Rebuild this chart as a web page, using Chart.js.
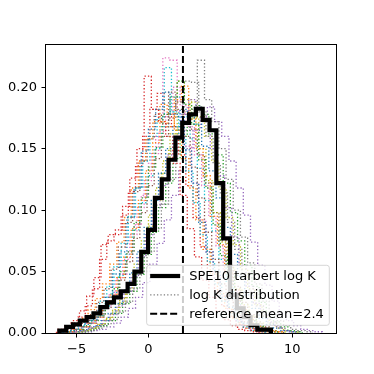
<!DOCTYPE html>
<html>
<head>
<meta charset="utf-8">
<script src="https://cdn.jsdelivr.net/npm/chart.js@4.4.1/dist/chart.umd.min.js"></script>
<style>
  html, body { margin: 0; padding: 0; background: #fff; }
  #wrap { width: 374px; height: 374px; }
</style>
</head>
<body>
<div id="wrap"><canvas id="histChart" width="374" height="374"></canvas></div>
<script>
// Axis ranges and ticks
const xMin = -7.13, xMax = 13.05;
const yMin = 0, yMax = 0.2344;
const xTicks = [-5, 0, 5, 10];
const yTicks = [0, 0.05, 0.10, 0.15, 0.20];
const refMean = 2.4;
const legendLabels = ['SPE10 tarbert log K', 'log K distribution', 'reference mean=' + refMean];

// SPE10 tarbert log K histogram (density per bin)
const spe10Start = -6.2;
const spe10Width = 0.475;
const spe10Density = [0.002, 0.005, 0.007, 0.010, 0.013, 0.016, 0.021, 0.025, 0.029, 0.034,
    0.040, 0.050, 0.066, 0.084, 0.110, 0.125, 0.141, 0.159, 0.171, 0.178,
    0.1825, 0.1735, 0.165, 0.122, 0.077, 0.031, 0.020, 0.013, 0.0063, 0.0028, 0.0028];

// sampled log K distributions (dotted), each: first bin edge + densities
const sampleWidth = 0.5;
const sampleStarts = [-6.0, -5.7, -5.5, -6.3, -5.2, -6.1, -5.5, -4.6, -5.0, -5.9,
    -5.3, -6.2, -4.8, -6.4, -4.4, -5.6, -5.8, -5.0, -5.1, -5.6];
const sample01 = [0.001,0.002,0.004,0.007,0.011,0.020,0.029,0.048,0.066,0.094,0.118,0.148,0.166,0.182,0.196,0.178,0.176,0.149,0.122,0.090,0.066,0.051,0.029,0.021,0.011,0.008,0.004,0.002,0.001];
const sample02 = [0.001,0.003,0.005,0.008,0.013,0.022,0.031,0.045,0.062,0.085,0.108,0.132,0.155,0.172,0.168,0.190,0.201,0.174,0.150,0.128,0.095,0.072,0.049,0.035,0.020,0.013,0.007,0.004,0.002,0.001];
const sample03 = [0.002,0.003,0.006,0.010,0.014,0.024,0.036,0.050,0.066,0.090,0.110,0.135,0.151,0.178,0.192,0.205,0.186,0.170,0.141,0.118,0.088,0.063,0.046,0.030,0.018,0.011,0.006,0.003,0.001];
const sample04 = [0.003,0.006,0.010,0.018,0.030,0.045,0.072,0.080,0.084,0.103,0.126,0.150,0.209,0.182,0.172,0.160,0.138,0.112,0.085,0.062,0.043,0.029,0.018,0.011,0.006,0.003,0.002,0.001];
const sample05 = [0.001,0.002,0.004,0.006,0.010,0.015,0.022,0.033,0.046,0.062,0.080,0.102,0.120,0.145,0.160,0.178,0.190,0.184,0.172,0.150,0.128,0.102,0.078,0.055,0.038,0.024,0.015,0.009,0.005,0.002,0.001];
const sample06 = [0.001,0.003,0.006,0.009,0.015,0.025,0.036,0.052,0.070,0.090,0.115,0.140,0.158,0.178,0.170,0.196,0.182,0.160,0.135,0.110,0.082,0.060,0.040,0.027,0.016,0.009,0.005,0.002,0.001];
const sample07 = [0.001,0.003,0.005,0.009,0.014,0.022,0.033,0.048,0.066,0.088,0.112,0.138,0.160,0.224,0.222,0.180,0.152,0.122,0.092,0.066,0.045,0.030,0.018,0.010,0.006,0.003,0.001];
const sample08 = [0.001,0.002,0.004,0.007,0.011,0.017,0.025,0.036,0.050,0.066,0.085,0.105,0.125,0.148,0.165,0.182,0.222,0.190,0.172,0.150,0.125,0.100,0.078,0.057,0.040,0.026,0.016,0.010,0.006,0.003,0.002,0.001];
const sample09 = [0.001,0.002,0.004,0.007,0.012,0.019,0.028,0.040,0.056,0.075,0.096,0.118,0.140,0.162,0.205,0.190,0.175,0.150,0.124,0.098,0.074,0.053,0.036,0.023,0.014,0.008,0.004,0.002,0.001];
const sample10 = [0.001,0.003,0.006,0.010,0.016,0.026,0.038,0.054,0.073,0.095,0.118,0.140,0.160,0.175,0.216,0.180,0.158,0.132,0.106,0.080,0.058,0.040,0.026,0.016,0.009,0.005,0.002,0.001];
const sample11 = [0.001,0.002,0.004,0.006,0.010,0.016,0.024,0.035,0.049,0.066,0.086,0.108,0.130,0.150,0.168,0.182,0.176,0.170,0.152,0.132,0.110,0.086,0.064,0.046,0.031,0.020,0.012,0.007,0.004,0.002,0.001];
const sample12 = [0.002,0.004,0.007,0.012,0.019,0.028,0.040,0.056,0.074,0.094,0.118,0.140,0.158,0.172,0.186,0.178,0.165,0.142,0.118,0.092,0.068,0.048,0.032,0.020,0.012,0.007,0.004,0.002,0.001];
const sample13 = [0.001,0.002,0.004,0.006,0.010,0.016,0.024,0.034,0.048,0.064,0.082,0.102,0.122,0.142,0.160,0.170,0.185,0.178,0.162,0.145,0.122,0.098,0.075,0.055,0.038,0.025,0.015,0.009,0.005,0.002,0.001];
const sample14 = [0.002,0.004,0.008,0.013,0.022,0.036,0.060,0.075,0.080,0.096,0.115,0.136,0.160,0.182,0.195,0.176,0.168,0.145,0.120,0.094,0.070,0.050,0.034,0.022,0.013,0.007,0.004,0.002,0.001];
const sample15 = [0.001,0.002,0.003,0.005,0.008,0.013,0.020,0.029,0.041,0.056,0.073,0.092,0.112,0.132,0.150,0.165,0.176,0.184,0.172,0.160,0.140,0.118,0.096,0.074,0.055,0.039,0.026,0.016,0.010,0.006,0.003,0.002,0.001];
const sample16 = [0.001,0.002,0.005,0.008,0.013,0.020,0.030,0.043,0.058,0.077,0.098,0.120,0.142,0.160,0.175,0.188,0.180,0.166,0.145,0.122,0.098,0.075,0.055,0.038,0.025,0.015,0.009,0.005,0.002,0.001];
const sample17 = [0.001,0.003,0.005,0.008,0.013,0.021,0.031,0.044,0.060,0.080,0.102,0.124,0.146,0.164,0.178,0.200,0.185,0.168,0.145,0.120,0.095,0.071,0.051,0.035,0.022,0.013,0.007,0.004,0.002,0.001];
const sample18 = [0.001,0.002,0.004,0.006,0.010,0.016,0.024,0.034,0.047,0.063,0.082,0.104,0.126,0.148,0.168,0.205,0.204,0.180,0.160,0.138,0.114,0.090,0.068,0.049,0.034,0.022,0.013,0.008,0.004,0.002,0.001];
const sample19 = [0.001,0.002,0.004,0.007,0.011,0.017,0.025,0.036,0.050,0.067,0.087,0.108,0.130,0.150,0.166,0.178,0.188,0.176,0.160,0.140,0.118,0.094,0.072,0.052,0.036,0.023,0.014,0.008,0.004,0.002,0.001];
const sample20 = [0.001,0.003,0.005,0.009,0.014,0.022,0.033,0.047,0.064,0.084,0.106,0.128,0.150,0.168,0.180,0.192,0.176,0.158,0.134,0.108,0.083,0.060,0.042,0.028,0.017,0.010,0.005,0.003,0.001];
const samples = [sample01, sample02, sample03, sample04, sample05, sample06, sample07, sample08, sample09, sample10,
    sample11, sample12, sample13, sample14, sample15, sample16, sample17, sample18, sample19, sample20];

// matplotlib tab10 cycle
const tab10 = ['#1f77b4', '#ff7f0e', '#2ca02c', '#d62728', '#9467bd',
    '#8c564b', '#e377c2', '#7f7f7f', '#bcbd22', '#17becf'];

const FONT = { family: '"DejaVu Sans", sans-serif', size: 13 };

// histogram outline points: edge + density, closed down to zero at both ends
function stepPoints(start, width, dens) {
    const pts = [{ x: start, y: 0 }];
    dens.forEach((d, i) => pts.push({ x: start + i * width, y: d }));
    pts.push({ x: start + dens.length * width, y: 0 });
    return pts;
}

function fmtX(v) {
    return v < 0 ? '\u2212' + Math.abs(v) : String(v);
}

const datasets = [];
// reference mean (on top)
datasets.push({
    data: [{ x: refMean, y: yMin }, { x: refMean, y: yMax }],
    borderColor: '#000', borderWidth: 2, borderDash: [7, 3],
    pointRadius: 0, fill: false
});
// SPE10
datasets.push({
    data: stepPoints(spe10Start, spe10Width, spe10Density),
    stepped: true, borderColor: '#000', borderWidth: 4.2,
    pointRadius: 0, fill: false
});
// samples
samples.forEach((s, i) => {
    datasets.push({
        data: stepPoints(sampleStarts[i], sampleWidth, s),
        stepped: true, borderColor: tab10[i % 10], borderWidth: 1.3,
        borderDash: [1.3, 2.1], pointRadius: 0, fill: false
    });
});

// axes frame on all four sides
const framePlugin = {
    id: 'frame',
    afterDatasetsDraw(chart) {
        const { ctx, chartArea: a } = chart;
        ctx.save();
        ctx.strokeStyle = '#000';
        ctx.lineWidth = 1;
        ctx.strokeRect(Math.round(a.left) - 0.5, Math.round(a.top) - 0.5,
            Math.round(a.right - a.left) + 1, Math.round(a.bottom - a.top) + 1);
        ctx.restore();
    }
};

// matplotlib-like legend, lower right
const legendPlugin = {
    id: 'mplLegend',
    afterDraw(chart) {
        const { ctx, chartArea: a } = chart;
        ctx.save();
        ctx.font = FONT.size + 'px ' + FONT.family;
        const textW = Math.max(...legendLabels.map(t => ctx.measureText(t).width));
        const w = 42.5 + textW + 5.5, h = 60;
        const right = a.right - 6.7, bottom = a.bottom - 7.7;
        const left = right - w, top = bottom - h;
        const r = 2.5;
        ctx.beginPath();
        ctx.moveTo(left + r, top);
        ctx.lineTo(right - r, top);
        ctx.arcTo(right, top, right, top + r, r);
        ctx.lineTo(right, bottom - r);
        ctx.arcTo(right, bottom, right - r, bottom, r);
        ctx.lineTo(left + r, bottom);
        ctx.arcTo(left, bottom, left, bottom - r, r);
        ctx.lineTo(left, top + r);
        ctx.arcTo(left, top, left + r, top, r);
        ctx.closePath();
        ctx.fillStyle = 'rgba(255,255,255,0.8)';
        ctx.fill();
        ctx.strokeStyle = 'rgba(204,204,204,0.8)';
        ctx.lineWidth = 1;
        ctx.stroke();

        const handles = [
            { color: '#000', width: 4.2, dash: [] },
            { color: '#7f7f7f', width: 1.3, dash: [1.3, 2.1] },
            { color: '#000', width: 2, dash: [7, 3] }
        ];
        legendLabels.forEach((label, i) => {
            const y = top + 10.7 + i * 18.9;
            const hd = handles[i];
            ctx.beginPath();
            ctx.setLineDash(hd.dash);
            ctx.strokeStyle = hd.color;
            ctx.lineWidth = hd.width;
            ctx.moveTo(left + 3.5, y);
            ctx.lineTo(left + 33.5, y);
            ctx.stroke();
            ctx.setLineDash([]);
            ctx.fillStyle = '#000';
            ctx.textBaseline = 'middle';
            ctx.textAlign = 'left';
            ctx.fillText(label, left + 42.5, y + 0.5);
        });
        ctx.restore();
    }
};

Chart.defaults.color = '#000';

new Chart(document.getElementById('histChart'), {
    type: 'line',
    data: { datasets: datasets },
    options: {
        responsive: false,
        animation: false,
        devicePixelRatio: 1,
        layout: { padding: { left: 0, top: 45, right: 38, bottom: 0 } },
        plugins: { legend: { display: false }, tooltip: { enabled: false } },
        scales: {
            x: {
                type: 'linear', min: xMin, max: xMax,
                afterBuildTicks: s => { s.ticks = xTicks.map(v => ({ value: v })); },
                afterFit: s => { s.height = 41; },
                grid: { drawOnChartArea: false, drawTicks: true, tickLength: 4.5, color: '#000', lineWidth: 1 },
                border: { display: false },
                ticks: { padding: 4.5, font: FONT, color: '#000', maxRotation: 0, autoSkip: false, callback: v => fmtX(v) }
            },
            y: {
                type: 'linear', min: yMin, max: yMax,
                afterBuildTicks: s => { s.ticks = yTicks.map(v => ({ value: v })); },
                afterFit: s => { s.width = 46; },
                grid: { drawOnChartArea: false, drawTicks: true, tickLength: 4.5, color: '#000', lineWidth: 1 },
                border: { display: false },
                ticks: { padding: 4.5, font: FONT, color: '#000', autoSkip: false, callback: v => v.toFixed(2) }
            }
        }
    },
    plugins: [framePlugin, legendPlugin]
});
</script>
</body>
</html>
